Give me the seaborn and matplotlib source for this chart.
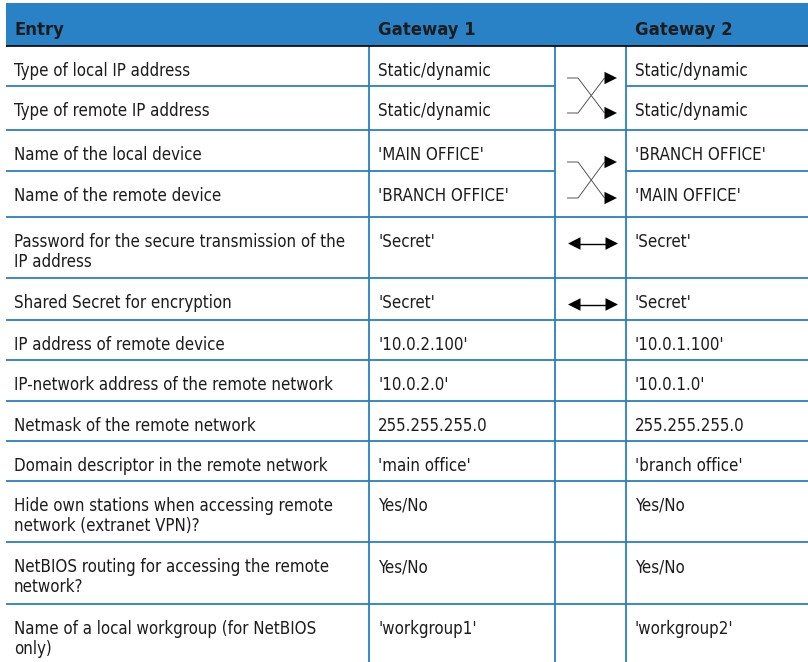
import matplotlib
matplotlib.use("Agg")
import matplotlib.pyplot as plt
from matplotlib import font_manager as fm
import seaborn as sns

# ---------------- data ----------------
header = ["Entry", "Gateway 1", "Gateway 2"]
entries = [
    "Type of local IP address",
    "Type of remote IP address",
    "Name of the local device",
    "Name of the remote device",
    "Password for the secure transmission of the\nIP address",
    "Shared Secret for encryption",
    "IP address of remote device",
    "IP-network address of the remote network",
    "Netmask of the remote network",
    "Domain descriptor in the remote network",
    "Hide own stations when accessing remote\nnetwork (extranet VPN)?",
    "NetBIOS routing for accessing the remote\nnetwork?",
    "Name of a local workgroup (for NetBIOS\nonly)",
]
gateway1 = [
    "Static/dynamic", "Static/dynamic",
    "'MAIN OFFICE'", "'BRANCH OFFICE'",
    "'Secret'", "'Secret'",
    "'10.0.2.100'", "'10.0.2.0'", "255.255.255.0", "'main office'",
    "Yes/No", "Yes/No", "'workgroup1'",
]
gateway2 = [
    "Static/dynamic", "Static/dynamic",
    "'BRANCH OFFICE'", "'MAIN OFFICE'",
    "'Secret'", "'Secret'",
    "'10.0.1.100'", "'10.0.1.0'", "255.255.255.0", "'branch office'",
    "Yes/No", "Yes/No", "'workgroup2'",
]
# relation drawn in the middle column: "cross" spans this row and the next
relation = ["cross", None, "cross", None, "both", "both",
            None, None, None, None, None, None, None]

# ---------------- layout (pixels) ----------------
W, H = 808, 662
row_heights = [40, 44, 41, 46, 61, 42, 40, 41, 40, 40, 61, 62, 58]
header_top, header_bottom = 3, 46
col_x = [6, 369, 555, 626, 808]
text_x = [14, 378, 635]
BLUE = "#2A82C6"
LINE = "#2A7FC4"
TXT = "#1C1C1C"

sns.set_style("white")


# ---------------- font choice: prefer a condensed sans ----------------
def _w(f):
    w = f.weight
    if isinstance(w, str):
        return {"normal": 400, "regular": 400, "bold": 700}.get(w.lower(), 400)
    return int(w)


def pick(bold):
    want = 700 if bold else 400
    best, best_score = None, None
    for f in fm.fontManager.ttflist:
        if f.style != "normal":
            continue
        if abs(_w(f) - want) > 100:
            continue
        name = f.name.lower()
        fn = f.fname.lower()
        score = None
        if "liberation sans narrow" in name:
            score = 0
        elif ("condensed" in name or "condensed" in fn) and "extra" not in fn and "semi" not in fn:
            score = 1
        elif f.stretch == "condensed":
            score = 2
        elif "semicondensed" in fn or f.stretch == "semi-condensed":
            score = 3
        elif "narrow" in name:
            score = 4
        if score is None:
            continue
        if "sans" not in name and "roboto" not in name and "lato" not in name and "inter" not in name:
            score += 5
        if "mono" in name:
            score += 10
        if best_score is None or score < best_score:
            best, best_score = f.fname, score
    if best is None:
        return fm.FontProperties(family="Liberation Sans",
                                 weight="bold" if bold else "normal")
    return fm.FontProperties(fname=best)


FP_BODY = pick(False)
FP_HEAD = pick(True)

fig = plt.figure(figsize=(W / 100, H / 100), dpi=100)
ax = fig.add_axes([0, 0, 1, 1])
ax.set_xlim(0, W)
ax.set_ylim(H, 0)
ax.axis("off")
sns.despine(ax=ax, left=True, bottom=True)
renderer = fig.canvas.get_renderer()


def calibrate(fp, sample, target_px, base=12.0):
    p = fp.copy()
    p.set_size(base)
    t = ax.text(0, 0, sample, fontproperties=p)
    w = t.get_window_extent(renderer).width
    t.remove()
    return base * target_px / w


body_size = calibrate(FP_BODY, "Password for the secure transmission of the", 331)
head_size = calibrate(FP_HEAD, "Gateway 1", 98)
FP_BODY.set_size(body_size)
FP_HEAD.set_size(head_size)

# header
ax.add_patch(plt.Rectangle((col_x[0], header_top), W - col_x[0],
                           header_bottom - header_top, color=BLUE, lw=0, zorder=1))
ax.hlines(header_bottom, col_x[0], W, color="black", lw=1.2, zorder=3)
for x, t in zip(text_x, header):
    ax.text(x, 35, t, fontproperties=FP_HEAD, color=TXT,
            va="baseline", ha="left", zorder=4)

# row boundaries
tops = [header_bottom]
for h in row_heights:
    tops.append(tops[-1] + h)

# horizontal lines
for i in range(1, len(row_heights)):
    y = tops[i]
    if relation[i - 1] == "cross":
        ax.hlines(y, col_x[0], col_x[2], color=LINE, lw=1.3, zorder=2)
        ax.hlines(y, col_x[3], W, color=LINE, lw=1.3, zorder=2)
    else:
        ax.hlines(y, col_x[0], W, color=LINE, lw=1.3, zorder=2)

# vertical lines
for x in col_x[1:4]:
    ax.vlines(x, header_bottom, H, color=LINE, lw=1.3, zorder=2)

# texts
for i, (e, g1, g2) in enumerate(zip(entries, gateway1, gateway2)):
    base = tops[i] + 30
    for col, txt in zip(text_x, (e, g1, g2)):
        for k, line in enumerate(txt.split("\n")):
            ax.text(col, base + 20 * k, line, fontproperties=FP_BODY, color=TXT,
                    va="baseline", ha="left", zorder=4)


def head(tip_x, y, direction, L=12.5, hh=6.2):
    bx = tip_x - direction * L
    ax.fill([tip_x, bx, bx], [y, y - hh, y + hh], color="black", lw=0, zorder=5)


for i, rel in enumerate(relation):
    if rel == "cross":
        y1 = tops[i] + 32
        y2 = tops[i + 1] + 27
        for ya, yb in ((y1, y2), (y2, y1)):
            ax.plot([567, 578, 604.5], [ya, ya, yb], color="#555555", lw=0.7,
                    zorder=4, solid_capstyle="butt")
            head(617, yb, 1)
    elif rel == "both":
        y = tops[i] + 26.5
        ax.plot([575, 610], [y, y], color="black", lw=1.0, zorder=4)
        head(568, y, -1, L=12.5, hh=6.3)
        head(618, y, 1, L=12.5, hh=6.3)

fig.savefig("out.png", dpi=100)
